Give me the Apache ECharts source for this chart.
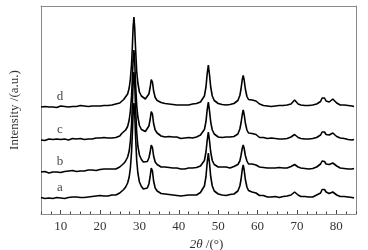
<!DOCTYPE html>
<html><head><meta charset="utf-8">
<script src="https://cdn.jsdelivr.net/npm/echarts@6/dist/echarts.min.js"></script>
<style>html,body{margin:0;padding:0;background:#fff}#c{width:368px;height:250px}</style>
</head><body><div id="c"></div>
<script>
// 2θ sampling positions (degrees)
const twoTheta = [
 5,5.5,6,6.5,7,7.5,8,8.5,9,9.5,10,10.5,11,11.5,12,12.5,13,13.5,14,14.5,15,15.5,16,16.5,17,17.5,18,18.5,19,19.5,20,20.5,21,21.5,22,22.5,23,23.5,24,24.5,25,
 25.5,26,26.5,27,27.4,27.7,28.0,28.2,28.4,28.6,28.8,29.0,29.3,29.6,30.0,30.5,31,31.5,32,32.4,32.7,33.0,33.3,33.6,34.0,34.5,35,
 35.5,36,36.5,37,37.5,38,38.5,39,39.5,40,40.5,41,41.5,42,42.5,43,43.5,44,44.5,45,45.5,
 46,46.5,46.9,47.2,47.5,47.8,48.1,48.5,49,49.5,50,
 50.5,51,51.5,52,52.5,53,53.5,54,54.5,
 55,55.5,55.8,56.1,56.35,56.6,56.9,57.3,57.7,58.1,58.6,59.1,59.6,60.1,
 60.5,61,61.5,62,62.5,63,63.5,64,64.5,65,65.5,66,66.5,67,67.5,68,
 68.5,69,69.4,69.8,70.3,
 71,71.5,72,72.5,73,73.5,74,74.5,75,75.5,
 76,76.4,76.7,77,77.4,77.8,78.2,78.6,79.1,79.6,80.1,
 80.5,81,81.5,82,82.5,83,83.5,84,84.5
];
const traceNames = ['a', 'b', 'c', 'd'];
const offsets = [16, 42, 74, 107];   // vertical stacking offsets (a.u.)
const xTickValues = [10, 20, 30, 40, 50, 60, 70, 80];

const intensityA = [
 0.5,0,-0.5,0.5,0,1,-0.5,0,0.5,1,0,0.5,-0.5,1,0.5,0,1,0.5,1,1.5,0.5,1,0.5,1.5,1,2,1.5,1,2,1.5,2.5,1.5,2,3,2,2.5,3,3.5,3,4,5,
 7,8.5,11,15,21,30,46,64,85,95,84,63,38,25,16,11.5,9,8,10,14,21,30,27,17,10,7,5.5,
 4.5,3.5,4,3,3.5,2.5,3,3.5,2.5,3,2,3,2.5,2,3,2.5,3,3.5,3,4,5.5,
 7,12,21.5,35,45,34.5,21.5,12,7,5,4,
 3.5,3,3.5,2.5,3,3.5,3,4,5,
 7,12,18.5,28,33,28,18.5,11,7.5,6,6,7,5,3.5,
 2.5,2,2.5,1.5,1,1.5,1,0.5,1.5,1,0.5,1,1.5,1,2,2,
 3,4.5,6,5,3,
 1.5,1,1.5,0.5,1,1.5,1,2,3,4,
 5,8.5,10,8.5,6,4.5,4.5,5.5,6,5,3,
 2,1.5,1,1.5,0.5,1,0,0.5,0
];
const intensityB = [
 0,-0.5,0.5,0,-1,0.5,0,1,0,0.5,-0.5,1,0.5,0,1,0.5,1.5,1,0.5,1.5,1,2,1,1.5,2,1,2,2.5,1.5,2,2.5,2,3,2,3,2.5,3,3.5,3,4,5,
 7,8.5,11,15,21,31,48,67,89,100,88,66,40,26,17,12.5,10,9.5,10.5,14,19.5,27,24.5,16,10,7.5,6,
 5,4.5,5,4,4.5,3.5,4,3,4,3.5,3,4,3,3.5,4,3,4,3.5,4.5,5,6,
 7.5,11.5,20,31.5,40,31,20,11.5,7.5,6,5,
 4.5,5,4,5,4.5,4,5,5.5,6,
 7.5,11,16.5,23.5,27,23.5,16.5,11,8,7.5,8,9.5,7,5.5,
 5,4,4.5,3.5,4,3.5,4,3,4,3.5,4.5,3.5,4,4.5,4,5,
 5.5,6.5,7.5,6.5,5,
 4,4.5,3.5,4,3,4,3.5,4.5,5,6,
 8,11,12,10.5,8,7,7.5,8.5,9,8,6,
 5,4,4.5,3.5,4,3,3.5,3,3.5
];
const intensityC = [
 0,0.5,-0.5,0,1,-0.5,0.5,0,1,0,0.5,-0.5,1,0.5,0,1,1.5,0.5,1,0,1.5,1,0.5,1.5,1,2,1,1.5,2,1,2,1.5,2.5,1.5,2,2.5,2,3,2.5,3.5,4,
 6.5,7,10,13.5,20,29,44,62,81,90,78,58,35,23,14.5,10.5,8.5,8.5,10,14,20,28.5,26,16.5,10,7,5.5,
 4,4.5,3,3.5,3.5,2.5,3,2,3,2.5,1.5,2.5,2,2.5,2.5,3,2,3,3,4,5,
 6,10.5,18.5,30,38,29,18,10,6,4.5,3,
 3.5,2.5,2,3,2.5,3,2.5,3.5,4.5,
 6,11,17,25,30,25.5,17,10,7,6,6.5,7.5,5.5,4,
 2.5,2,2.5,1,1.5,1,2,1,1.5,0.5,1,1.5,1,2,1.5,2.5,
 3,4.5,5.5,4.5,2.5,
 1.5,2,1,1.5,1,2,1.5,2,2.5,4,
 5,8,9.5,8,5.5,4.5,5,6,7,5.5,3.5,
 2.5,2,1,1.5,1,0.5,1,0,0.5
];
const intensityD = [
 0,-1,0.5,-0.5,0,1,0,0.5,-0.5,0.5,1,0,0.5,1,0,1,0.5,1.5,0.5,1,1.5,0.5,1,1.5,0.5,1.5,1,2,1,1.5,1,2,1.5,2,1.5,2.5,2,2.5,3,3,4,
 6,7.5,9.5,13,19,28,43,60,80,90,79,60,36,24,15,11,9,8,9.5,13,19,27.5,25,16,9.5,6.5,5,
 4.5,4,3.5,4,3,3.5,2.5,3,2,3,2,2.5,2,3,2,2.5,3,2.5,3.5,3.5,5,
 6.5,11,20,33,42,32,20,11,6.5,4.5,3.5,
 3,2.5,3,2,3,2.5,3,3.5,4.5,
 6.5,11.5,18,27,31.5,27,18,10.5,7.5,6.5,7,9,6,4,
 3,2.5,1.5,2,1,1.5,0.5,1.5,1,0.5,1.5,1,1.5,1,2,2.5,
 3,5,7,5.5,3,
 2,1,1.5,0.5,1.5,1,2,1.5,3,4,
 5.5,9,11,9,6,5,5,6.5,8,6,4,
 3,2,1.5,2,1,1.5,0.5,1,0.5
];

const chart = echarts.init(document.getElementById('c'), null, {renderer: 'canvas'});
const font = 'Liberation Serif';
const frameLine = {show: true, lineStyle: {color: '#8a8a8a', width: 1}};
const traces = [intensityA, intensityB, intensityC, intensityD];

const series = traces.map((vals, i) => ({
  type: 'line', name: traceNames[i], xAxisIndex: 0, yAxisIndex: 0,
  data: twoTheta.map((x, k) => [x, vals[k] + offsets[i]]),
  symbol: 'none', silent: true,
  lineStyle: {color: '#000', width: 1.6}
}));
series.push({
  type: 'scatter', xAxisIndex: 0, yAxisIndex: 0, symbolSize: 0, silent: true,
  data: traceNames.map((n, i) => ({name: n, value: [9.8, offsets[i] + 10]})),
  label: {show: true, position: 'inside', formatter: '{b}', color: '#111', fontFamily: font, fontSize: 13}
});

chart.setOption({
  animation: false,
  backgroundColor: '#fff',
  grid: {left: 41, right: 12, top: 6, bottom: 36, containLabel: false, outerBoundsMode: 'none'},
  xAxis: [
    {type: 'value', min: 5, max: 85, position: 'bottom',
     axisLine: frameLine,
     axisTick: {show: true, inside: true, length: 4, customValues: xTickValues, lineStyle: {color: '#444'}},
     axisLabel: {customValues: xTickValues, fontFamily: font, fontSize: 13, color: '#333', margin: 6},
     splitLine: {show: false},
     name: '{i|2θ} /(°)', nameLocation: 'middle', nameGap: 24,
     nameTextStyle: {fontFamily: font, fontSize: 13, color: '#333', padding: [0, 0, 0, 16],
       rich: {i: {fontFamily: font, fontSize: 13, fontStyle: 'italic', color: '#333'}}}},
    {type: 'value', min: 5, max: 85, interval: 2.5, position: 'bottom',
     axisLine: {show: false},
     axisTick: {show: true, inside: true, length: 2.5, lineStyle: {color: '#444'}},
     axisLabel: {show: false}, splitLine: {show: false}},
    {type: 'value', min: 5, max: 85, position: 'top',
     axisLine: frameLine, axisTick: {show: false}, axisLabel: {show: false}, splitLine: {show: false}}
  ],
  yAxis: [
    {type: 'value', min: 0, max: 208, position: 'left',
     axisLine: frameLine, axisTick: {show: false}, axisLabel: {show: false}, splitLine: {show: false},
     name: 'Intensity /(a.u.)', nameLocation: 'middle', nameGap: 20, nameRotate: 90,
     nameTextStyle: {fontFamily: font, fontSize: 13, color: '#333'}},
    {type: 'value', min: 0, max: 208, position: 'right',
     axisLine: frameLine, axisTick: {show: false}, axisLabel: {show: false}, splitLine: {show: false}}
  ],
  series: series
});
</script>
</body></html>
